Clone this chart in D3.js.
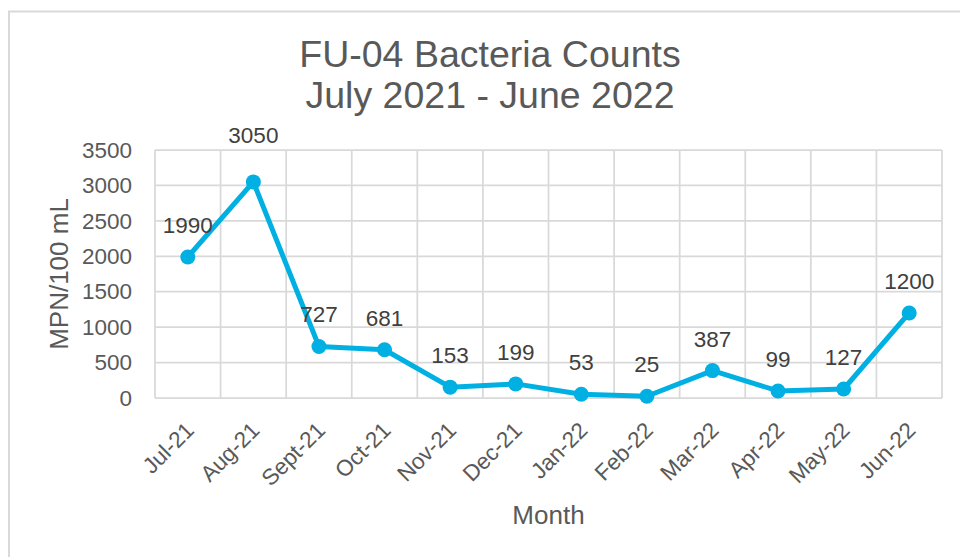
<!DOCTYPE html>
<html>
<head>
<meta charset="utf-8">
<script src="https://cdn.jsdelivr.net/npm/d3@7"></script>
<style>
  html, body { margin: 0; padding: 0; background: #fff; }
  svg { display: block; font-family: "Liberation Sans", Arial, sans-serif; }
</style>
</head>
<body>
<svg id="chart" width="960" height="557"></svg>
<script>
// Monthly sampling results for site FU-04
const months = ["Jul-21", "Aug-21", "Sept-21", "Oct-21", "Nov-21", "Dec-21",
                "Jan-22", "Feb-22", "Mar-22", "Apr-22", "May-22", "Jun-22"];
const counts = [1990, 3050, 727, 681, 153, 199, 53, 25, 387, 99, 127, 1200];
const yTicks = [0, 500, 1000, 1500, 2000, 2500, 3000, 3500];
const titleLines = ["FU-04 Bacteria Counts", "July 2021 - June 2022"];
const yTitle = "MPN/100 mL";
const xTitle = "Month";

const svg = d3.select("#chart");
const W = 960, H = 557;
const plot = { left: 155, right: 942, top: 150, bottom: 398 };

const gridColor = "#d9d9d9";
const textColor = "#595959";
const labelColor = "#404040";
const lineColor = "#00B0E3";

// chart frame
svg.append("rect")
  .attr("x", 9).attr("y", 11.5)
  .attr("width", W + 20).attr("height", H + 20)
  .attr("fill", "none").attr("stroke", gridColor).attr("stroke-width", 2);

const x = d3.scaleBand().domain(months).range([plot.left, plot.right]);
const y = d3.scaleLinear().domain([0, 3500]).range([plot.bottom, plot.top]);
const cx = d => x(d) + x.bandwidth() / 2;

// horizontal gridlines
svg.append("g").selectAll("line").data(yTicks).join("line")
  .attr("x1", plot.left).attr("x2", plot.right)
  .attr("y1", d => y(d)).attr("y2", d => y(d))
  .attr("stroke", gridColor).attr("stroke-width", 1.75);

// vertical gridlines at category boundaries
const bounds = months.map(m => x(m)).concat([plot.right]);
svg.append("g").selectAll("line").data(bounds).join("line")
  .attr("x1", d => d).attr("x2", d => d)
  .attr("y1", plot.top).attr("y2", plot.bottom)
  .attr("stroke", gridColor).attr("stroke-width", 1.75);

// y axis tick labels
const yAxis = d3.axisLeft(y).tickValues(yTicks).tickFormat(d3.format("d"))
  .tickSize(0).tickPadding(23);
const gy = svg.append("g").attr("transform", `translate(${plot.left},0)`).call(yAxis);
gy.select(".domain").remove();
gy.selectAll("text")
  .attr("fill", textColor).attr("font-size", 22.5)
  .attr("font-family", "Liberation Sans, Arial, sans-serif");

// x axis tick labels, rotated
const xAxis = d3.axisBottom(x).tickSize(0).tickPadding(0);
const gx = svg.append("g").attr("transform", `translate(0,${plot.bottom})`).call(xAxis);
gx.select(".domain").remove();
gx.selectAll("text")
  .attr("fill", textColor).attr("font-size", 22.5)
  .attr("font-family", "Liberation Sans, Arial, sans-serif")
  .attr("text-anchor", "end")
  .attr("dy", "0.35em")
  .attr("transform", "translate(2,28) rotate(-45)");

// series line
const line = d3.line().x((d, i) => cx(months[i])).y(d => y(d));
svg.append("path").datum(counts)
  .attr("d", line)
  .attr("fill", "none").attr("stroke", lineColor)
  .attr("stroke-width", 5).attr("stroke-linejoin", "round");

// markers
svg.append("g").selectAll("circle").data(counts).join("circle")
  .attr("cx", (d, i) => cx(months[i])).attr("cy", d => y(d))
  .attr("r", 7.5).attr("fill", lineColor);

// value labels above each point; the peak label sits a little higher
const labelLift = d => (d === d3.max(counts) ? 39 : 24);
svg.append("g").selectAll("text").data(counts).join("text")
  .attr("x", (d, i) => cx(months[i]))
  .attr("y", d => y(d) - labelLift(d))
  .attr("text-anchor", "middle")
  .attr("fill", labelColor).attr("font-size", 22.5)
  .text(d => d);

// title
svg.append("g").selectAll("text").data(titleLines).join("text")
  .attr("x", 490).attr("y", (d, i) => 66.5 + i * 41.5)
  .attr("text-anchor", "middle")
  .attr("fill", textColor).attr("font-size", 37.5)
  .text(d => d);

// axis titles
svg.append("text")
  .attr("transform", `translate(68,${(plot.top + plot.bottom) / 2}) rotate(-90)`)
  .attr("text-anchor", "middle")
  .attr("fill", textColor).attr("font-size", 26)
  .text(yTitle);

svg.append("text")
  .attr("x", (plot.left + plot.right) / 2).attr("y", 524)
  .attr("text-anchor", "middle")
  .attr("fill", textColor).attr("font-size", 26)
  .text(xTitle);
</script>
</body>
</html>
